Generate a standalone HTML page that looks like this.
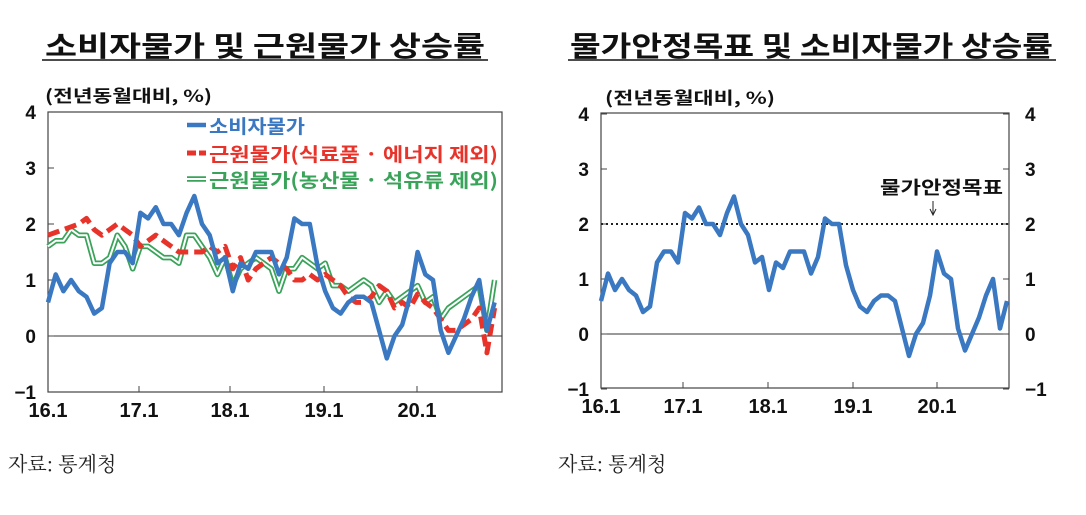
<!DOCTYPE html>
<html><head><meta charset="utf-8"><style>
html,body{margin:0;padding:0;background:#fff;}
svg{display:block;font-family:"Liberation Sans","Noto Sans CJK KR",sans-serif;}
.t{font-family:"Noto Sans CJK KR","NanumGothic",sans-serif;font-weight:bold;}
.s{font-family:"Noto Serif CJK SC","Liberation Serif",serif;}
</style></head><body>
<svg id="c" width="1086" height="515" viewBox="0 0 1086 515" xmlns="http://www.w3.org/2000/svg">
<rect width="1086" height="515" fill="#fff"/>
<text x="45" y="56" class="t" font-size="28" textLength="440" lengthAdjust="spacingAndGlyphs" fill="#111">소비자물가  및  근원물가  상승률</text>
<line x1="42" y1="60" x2="488" y2="60" stroke="#111" stroke-width="1.5"/>
<text x="570" y="56" class="t" font-size="28" textLength="483" lengthAdjust="spacingAndGlyphs" fill="#111">물가안정목표  및  소비자물가  상승률</text>
<line x1="568" y1="60" x2="1056" y2="60" stroke="#111" stroke-width="1.5"/>
<text x="8" y="471" class="s" font-size="20" fill="#222">자료: 통계청</text>
<text x="558" y="471" class="s" font-size="20" fill="#222">자료: 통계청</text>
<text x="45" y="102" class="t" font-size="17" textLength="167" lengthAdjust="spacingAndGlyphs" fill="#111">(전년동월대비, %)</text>
<text x="605" y="104" class="t" font-size="17" textLength="170" lengthAdjust="spacingAndGlyphs" fill="#111">(전년동월대비, %)</text>
<g id="g"></g>
</svg>
<script>
var cpi=[0.6,1.1,0.8,1.0,0.8,0.7,0.4,0.5,1.3,1.5,1.5,1.3,2.2,2.1,2.3,2.0,2.0,1.8,2.2,2.5,2.0,1.8,1.3,1.4,0.8,1.3,1.2,1.5,1.5,1.5,1.1,1.4,2.1,2.0,2.0,1.25,0.8,0.5,0.4,0.6,0.7,0.7,0.6,0.1,-0.4,0.0,0.2,0.7,1.5,1.1,1.0,0.1,-0.3,0.0,0.3,0.7,1.0,0.1,0.6];
var red=[1.8,1.85,1.9,1.95,2.0,2.1,1.9,1.8,1.9,2.0,1.9,1.8,1.6,1.7,1.8,1.7,1.6,1.5,1.5,1.5,1.5,1.6,1.5,1.6,1.2,1.4,1.0,1.2,1.3,1.4,1.3,1.2,1.0,1.0,1.1,1.0,1.1,1.0,0.9,0.7,0.6,0.6,0.7,0.9,0.8,0.5,0.6,0.5,0.75,0.6,0.5,0.3,0.1,0.1,0.2,0.3,0.5,-0.3,0.5];
var grn=[1.6,1.7,1.7,1.9,1.8,1.8,1.3,1.3,1.4,1.8,1.6,1.2,1.6,1.6,1.5,1.4,1.4,1.3,1.8,1.8,1.6,1.4,1.1,1.4,0.9,1.2,1.3,1.4,1.3,1.2,0.8,1.2,1.2,1.4,1.3,1.2,1.3,0.9,0.9,0.8,0.9,1.0,0.9,0.6,0.8,0.6,0.7,0.8,0.9,0.6,0.7,0.3,0.5,0.6,0.7,0.8,0.9,0.1,1.0];
var h='';
function pts(a,x0,dx,y0,u){return a.map(function(v,i){return (x0+i*dx).toFixed(1)+','+(y0-v*u).toFixed(1)}).join(' ');}
function axes(L,R,T,B,y0,u,yrs,right){
 h+='<rect x="'+L+'" y="'+T+'" width="'+(R-L)+'" height="'+(B-T)+'" fill="none" stroke="#444" stroke-width="1.2"/>';
 h+='<line x1="'+L+'" y1="'+y0+'" x2="'+R+'" y2="'+y0+'" stroke="#333" stroke-width="1"/>';
 for(var v=-1;v<=4;v++){var y=y0-v*u;
  h+='<line x1="'+L+'" y1="'+y+'" x2="'+(L+6)+'" y2="'+y+'" stroke="#444"/>';
  var lab=v<0?'−1':''+v;
  h+='<text x="'+(L-12)+'" y="'+(y+7)+'" font-size="19" font-weight="bold" text-anchor="end" fill="#111">'+lab+'</text>';
  if(right){h+='<line x1="'+R+'" y1="'+y+'" x2="'+(R-6)+'" y2="'+y+'" stroke="#444"/>';
  h+='<text x="'+(R+16)+'" y="'+(y+7)+'" font-size="19" font-weight="bold" fill="#111">'+lab+'</text>';}
 }
 yrs.forEach(function(x,i){h+='<line x1="'+x+'" y1="'+B+'" x2="'+x+'" y2="'+(B-6)+'" stroke="#444"/>';
  h+='<text x="'+x+'" y="'+(B+25)+'" font-size="20" font-weight="bold" text-anchor="middle" fill="#111">'+(16+i)+'.1</text>';});
}
var L=48,dx=7.7,y0=336,u=56;
axes(48,502,112,392,336,56,[48,139,230,324,417],false);
h+='<polyline points="'+pts(grn,L,dx,y0,u)+'" fill="none" stroke="#3aa35a" stroke-width="5.5" stroke-linejoin="round"/>';
h+='<polyline points="'+pts(grn,L,dx,y0,u)+'" fill="none" stroke="#fff" stroke-width="2" stroke-linejoin="round"/>';
h+='<polyline points="'+pts(red,L,dx,y0,u)+'" fill="none" stroke="#e8332a" stroke-width="5" stroke-dasharray="12,6" stroke-linejoin="round"/>';
h+='<polyline points="'+pts(cpi,L,dx,y0,u)+'" fill="none" stroke="#3a78c2" stroke-width="4.5" stroke-linejoin="round"/>';
h+='<line x1="187" y1="125" x2="206" y2="125" stroke="#3a78c2" stroke-width="4.5"/>';
h+='<text x="209" y="133" class="t" font-size="19" textLength="96" lengthAdjust="spacingAndGlyphs" fill="#3a78c2">소비자물가</text>';
h+='<line x1="187" y1="153" x2="206" y2="153" stroke="#e8332a" stroke-width="5" stroke-dasharray="9,3"/>';
h+='<text x="209" y="161" class="t" font-size="19" textLength="289" lengthAdjust="spacingAndGlyphs" fill="#e8332a">근원물가(식료품 · 에너지 제외)</text>';
h+='<line x1="187" y1="179" x2="206" y2="179" stroke="#3aa35a" stroke-width="5.5"/><line x1="187" y1="179" x2="206" y2="179" stroke="#fff" stroke-width="2"/>';
h+='<text x="209" y="187" class="t" font-size="19" textLength="289" lengthAdjust="spacingAndGlyphs" fill="#3aa35a">근원물가(농산물 · 석유류 제외)</text>';
axes(601,1009,113,388,334,55,[601,683,768,853,937],true);
h+='<line x1="601" y1="224" x2="1009" y2="224" stroke="#222" stroke-width="2" stroke-dasharray="2,3"/>';
h+='<text x="880" y="194" class="t" font-size="18" textLength="123" lengthAdjust="spacingAndGlyphs" fill="#111">물가안정목표</text>';
h+='<line x1="933" y1="201" x2="933" y2="214" stroke="#222" stroke-width="1"/><path d="M930,209 L933,215 L936,209" fill="none" stroke="#222"/>';
h+='<polyline points="'+pts(cpi,601,7.0,334,55)+'" fill="none" stroke="#3a78c2" stroke-width="4.5" stroke-linejoin="round"/>';
document.getElementById('g').innerHTML=h;
</script>
</body></html>
